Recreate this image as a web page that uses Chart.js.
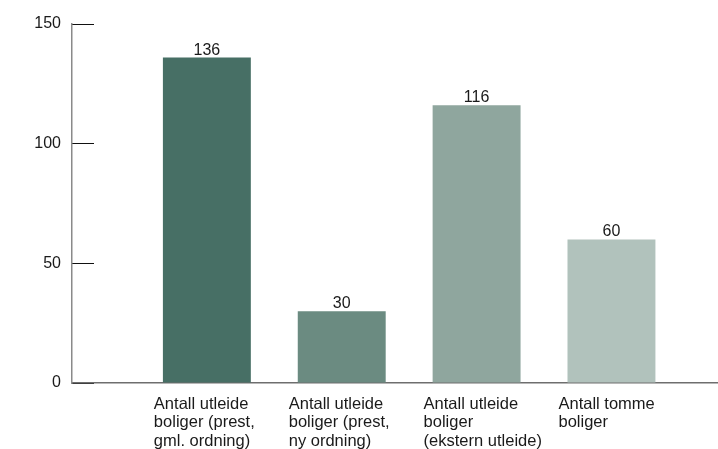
<!DOCTYPE html>
<html>
<head>
<meta charset="utf-8">
<script src="https://cdn.jsdelivr.net/npm/chart.js@4"></script>
<style>
  html, body { margin: 0; padding: 0; background: #fff; }
  #wrap { width: 718px; height: 449px; position: relative; }
</style>
</head>
<body>
<div id="wrap"><canvas id="myChart"></canvas></div>
<script>
var categories = [
    ['Antall utleide', 'boliger (prest,', 'gml. ordning)'],
    ['Antall utleide', 'boliger (prest,', 'ny ordning)'],
    ['Antall utleide', 'boliger', '(ekstern utleide)'],
    ['Antall tomme', 'boliger']
];
var values = [136, 30, 116, 60];
var barColors = ['#476f65', '#6b8b81', '#8fa69e', '#b1c2bc'];
var yTicks = [0, 50, 100, 150];

var fontFamily = "'Liberation Sans', Arial, Helvetica, sans-serif";

// value labels on top of each bar
var valueLabels = {
    id: 'valueLabels',
    afterDatasetsDraw: function (chart) {
        var ctx = chart.ctx;
        var meta = chart.getDatasetMeta(0);
        ctx.save();
        ctx.font = '16px ' + fontFamily;
        ctx.fillStyle = '#1a1a1a';
        ctx.textAlign = 'center';
        ctx.textBaseline = 'alphabetic';
        meta.data.forEach(function (bar, i) {
            ctx.fillText(String(values[i]), bar.x, bar.y - 3);
        });
        ctx.restore();
    }
};

document.addEventListener("DOMContentLoaded", function () {
    var ctx = document.getElementById('myChart').getContext('2d');
    new Chart(ctx, {
        type: 'bar',
        data: {
            datasets: [{
                data: values.map(function (v, i) { return { x: i, y: v }; }),
                backgroundColor: barColors,
                borderWidth: 0,
                categoryPercentage: 1,
                barPercentage: 0.652
            }]
        },
        options: {
            responsive: true,
            maintainAspectRatio: false,
            animation: false,
            layout: { padding: { top: 24, left: 0, right: 0, bottom: 0 } },
            plugins: {
                legend: { display: false },
                tooltip: { enabled: false }
            },
            scales: {
                x: {
                    type: 'linear',
                    offset: false,
                    min: -1,
                    max: 3.79,
                    afterBuildTicks: function (scale) {
                        scale.ticks = categories.map(function (c, i) { return { value: i }; });
                    },
                    afterFit: function (scale) {
                        scale.height = 66;
                        scale.paddingLeft = 0;
                        scale.paddingRight = 0;
                    },
                    grid: { display: false, drawTicks: false, offset: false },
                    border: { display: true, color: '#6e6e6e', width: 1.5 },
                    ticks: {
                        autoSkip: false,
                        maxRotation: 0,
                        align: 'start',
                        labelOffset: -53,
                        padding: 12,
                        color: '#1a1a1a',
                        font: { family: fontFamily, size: 16.5, lineHeight: '18.5px' },
                        callback: function (value) {
                            return categories[value];
                        }
                    }
                },
                y: {
                    min: 0,
                    max: 150,
                    afterBuildTicks: function (scale) {
                        scale.ticks = yTicks.map(function (v) { return { value: v }; });
                    },
                    afterFit: function (scale) {
                        scale.width = 72;
                        scale.paddingTop = 0;
                        scale.paddingBottom = 0;
                    },
                    grid: {
                        drawOnChartArea: false,
                        drawTicks: true,
                        tickLength: -22,
                        color: '#111',
                        lineWidth: 1
                    },
                    border: { display: true, color: '#8a8a8a', width: 1.5 },
                    ticks: {
                        padding: 33,
                        color: '#1a1a1a',
                        font: { family: fontFamily, size: 16 }
                    }
                }
            }
        },
        plugins: [valueLabels]
    });
});
</script>
</body>
</html>
